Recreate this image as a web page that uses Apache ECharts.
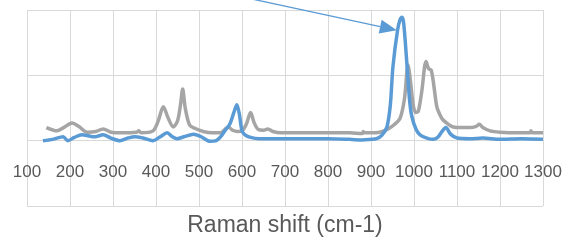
<!DOCTYPE html>
<html>
<head>
<meta charset="utf-8">
<script src="https://cdn.jsdelivr.net/npm/echarts@6/dist/echarts.min.js"></script>
<style>
html,body{margin:0;padding:0;background:#fff;}
#c{width:577px;height:246px;}
</style>
</head>
<body>
<div id="c"></div>
<script>
var xTicks = [100,200,300,400,500,600,700,800,900,1000,1100,1200,1300];
var axisTitle = 'Raman shift (cm-1)';

var grayX = [145,170,185,205,220,240,260,277,295,320,355,360,365,393,405,417,428,440,450,457,462,468,478,490,510,530,550,560,568,578,590,600,610,620,628,638,650,660,672,690,750,800,850,880,882,884,900,920,940,955,968,978,986,992,998,1004,1010,1018,1028,1034,1040,1046,1053,1060,1067,1080,1091,1110,1130,1145,1152,1160,1177,1200,1240,1270,1272,1275,1300];
var grayY = [0.20,0.15,0.20,0.27,0.22,0.13,0.14,0.18,0.13,0.12,0.13,0.15,0.12,0.15,0.30,0.52,0.35,0.21,0.30,0.55,0.79,0.50,0.24,0.19,0.14,0.12,0.12,0.17,0.21,0.16,0.14,0.15,0.25,0.43,0.28,0.17,0.16,0.18,0.14,0.12,0.12,0.12,0.12,0.11,0.14,0.12,0.12,0.13,0.18,0.25,0.35,0.65,1.16,0.90,0.55,0.43,0.45,0.75,1.21,1.10,1.08,0.85,0.52,0.40,0.32,0.25,0.21,0.20,0.20,0.22,0.25,0.20,0.15,0.13,0.12,0.12,0.15,0.12,0.12];

var blueX = [137,160,184,195,210,228,245,258,277,295,316,335,351,370,393,410,426,438,449,465,487,505,526,540,549,560,572,582,588,594,600,607,620,640,700,750,800,850,880,900,913,925,937,945,951,962,968,972,976,984,990,995,1005,1014,1030,1044,1055,1065,1074,1085,1100,1130,1160,1200,1250,1300];
var blueY = [0.00,0.02,0.06,0.00,0.05,0.09,0.07,0.06,0.09,0.04,0.00,0.04,0.06,0.04,0.00,0.06,0.12,0.06,0.03,0.06,0.10,0.06,-0.01,0.00,0.05,0.15,0.26,0.45,0.55,0.40,0.15,0.09,0.05,0.03,0.03,0.03,0.03,0.02,0.01,0.02,0.03,0.08,0.21,0.55,1.13,1.70,1.86,1.89,1.80,1.13,0.60,0.37,0.17,0.09,0.04,0.02,0.05,0.14,0.20,0.10,0.04,0.03,0.04,0.02,0.03,0.02];

var arrowFrom = [502, 2.34];
var arrowTo = [960, 1.69];

function pairs(xs, ys){ return xs.map(function(x,i){ return [x, ys[i]]; }); }

var FONT = "'Liberation Sans',Arial,sans-serif";
var chart = echarts.init(document.getElementById('c'), null, {renderer:'canvas'});
chart.setOption({
  animation:false,
  backgroundColor:'#ffffff',
  grid:{left:27, right:34, top:10, bottom:40, containLabel:false, outerBoundsMode:'none'},
  xAxis:{
    type:'value', min:xTicks[0], max:xTicks[xTicks.length-1], interval:100,
    axisLine:{show:false, onZero:false},
    axisTick:{show:false},
    splitLine:{show:true, lineStyle:{color:'#D9D9D9', width:1}},
    axisLabel:{color:'#595959', fontSize:17, fontFamily:FONT, margin:-42, showMinLabel:true, showMaxLabel:true, hideOverlap:false,
      formatter:function(v){ return String(v); }},
    name:axisTitle, nameLocation:'middle', nameGap:8,
    nameTextStyle:{color:'#595959', fontSize:23, fontFamily:FONT}
  },
  yAxis:{
    type:'value', min:-1, max:2, interval:1,
    axisLine:{show:false}, axisTick:{show:false}, axisLabel:{show:false},
    splitLine:{show:true, lineStyle:{color:'#D9D9D9', width:1}}
  },
  series:[
    {type:'line', data:pairs(grayX, grayY), showSymbol:false, smooth:0.3,
     lineStyle:{color:'#A5A5A5', width:3.5}, itemStyle:{color:'#A5A5A5'}, z:2},
    {type:'line', data:pairs(blueX, blueY), showSymbol:false, smooth:0.3,
     lineStyle:{color:'#5B9BD5', width:3.5}, itemStyle:{color:'#5B9BD5'}, z:3}
  ]
});

// annotation arrow, positioned through the chart's own coordinate conversion
var p0 = chart.convertToPixel({gridIndex:0}, arrowFrom);
var p1 = chart.convertToPixel({gridIndex:0}, arrowTo);
var dx = p1[0]-p0[0], dy = p1[1]-p0[1], len = Math.sqrt(dx*dx+dy*dy);
var ux = dx/len, uy = dy/len, headL = 17, headW = 7;
var bx = p1[0]-ux*headL, by = p1[1]-uy*headL;
chart.setOption({
  graphic:[
    {type:'line', z:10, shape:{x1:p0[0], y1:p0[1], x2:bx, y2:by}, style:{stroke:'#5B9BD5', lineWidth:1.3}},
    {type:'polygon', z:10, shape:{points:[[p1[0],p1[1]],[bx-uy*headW, by+ux*headW],[bx+uy*headW, by-ux*headW]]}, style:{fill:'#5B9BD5'}}
  ]
});
</script>
</body>
</html>
